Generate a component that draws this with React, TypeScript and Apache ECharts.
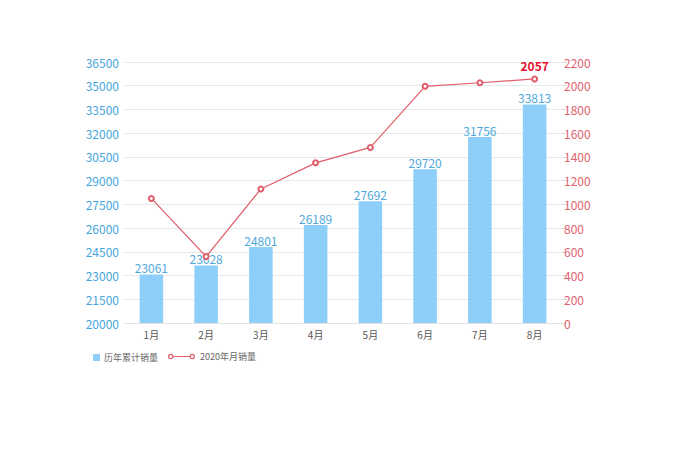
import React, { useEffect, useRef } from "react";
import * as echarts from "echarts";

const months = ["1月", "2月", "3月", "4月", "5月", "6月", "7月", "8月"];
const cumulativeSales = [23061, 23628, 24801, 26189, 27692, 29720, 31756, 33813];
const monthlySales2020 = [1050, 560, 1130, 1350, 1480, 1995, 2025, 2057];
const leftAxisMin = 20000;
const leftAxisMax = 36500;
const leftAxisStep = 1500;
const rightAxisMax = 2200;
const rightAxisStep = 200;
const barName = "历年累计销量";
const lineName = "2020年月销量";

const FONT = "'Noto Sans CJK SC', 'Noto Sans', sans-serif";

const lineLegendIcon =
  "path://M0,3 A3,3 0 1,0 6,3 A3,3 0 1,0 0,3 Z M1.3,3 A1.7,1.7 0 1,1 4.7,3 A1.7,1.7 0 1,1 1.3,3 Z " +
  "M6,2.5 L24,2.5 L24,3.5 L6,3.5 Z " +
  "M24,3 A3,3 0 1,0 30,3 A3,3 0 1,0 24,3 Z M25.3,3 A1.7,1.7 0 1,1 28.7,3 A1.7,1.7 0 1,1 25.3,3 Z";

export default function App() {
  const ref = useRef<HTMLDivElement>(null);
  useEffect(() => {
    if (!ref.current) return;
    const chart = echarts.init(ref.current, null, { renderer: "svg" });
    const lastIdx = monthlySales2020.length - 1;
    chart.setOption({
      animation: false,
      backgroundColor: "#ffffff",
      textStyle: { fontFamily: FONT },
      grid: { left: 124, right: 118, top: 62, bottom: 129, containLabel: false },
      legend: [
        {
          data: [{ name: barName, icon: "rect" }],
          left: 88,
          top: 348,
          itemWidth: 7,
          itemHeight: 7,
          itemGap: 10,
          textStyle: { fontSize: 9, color: "#666", fontFamily: FONT, padding: [0, 0, 0, -1] },
        },
        {
          data: [{ name: lineName, icon: lineLegendIcon }],
          left: 163,
          top: 347,
          itemWidth: 27,
          itemHeight: 6,
          textStyle: { fontSize: 9, color: "#666", fontFamily: FONT },
        },
      ],
      xAxis: {
        type: "category",
        data: months,
        axisLine: { show: true, lineStyle: { color: "#e3e3e3" } },
        axisTick: { show: false },
        axisLabel: { color: "#555", fontSize: 10, margin: 6, fontFamily: FONT },
      },
      yAxis: [
        {
          type: "value",
          min: 0,
          max: leftAxisMax - leftAxisMin,
          interval: leftAxisStep,
          axisLine: { show: false },
          axisTick: { show: false },
          axisLabel: {
            color: "#45a6dd",
            fontSize: 12,
            margin: 5,
            fontFamily: FONT,
            formatter: (v: number) => String(v + leftAxisMin),
          },
          splitLine: { lineStyle: { color: "#e6e8ec" } },
        },
        {
          type: "value",
          min: 0,
          max: rightAxisMax,
          interval: rightAxisStep,
          axisLine: { show: false },
          axisTick: { show: true, length: 5, lineStyle: { color: "#d8d8d8" } },
          axisLabel: {
            color: "#e0606e",
            fontSize: 12,
            margin: 2,
            fontFamily: FONT,
            formatter: (v: number) => String(v),
          },
          splitLine: { show: false },
        },
      ],
      series: [
        {
          name: barName,
          type: "bar",
          yAxisIndex: 0,
          barWidth: "43%",
          itemStyle: { color: "#8ecff9" },
          label: {
            show: true,
            position: "top",
            distance: 1,
            color: "#4fa8dc",
            fontSize: 12,
            fontFamily: FONT,
            formatter: (p: any) => String(cumulativeSales[p.dataIndex]),
          },
          data: cumulativeSales.map((v) => v - leftAxisMin),
        },
        {
          name: lineName,
          type: "line",
          yAxisIndex: 1,
          symbol: "emptyCircle",
          symbolSize: 5,
          lineStyle: { color: "#e05d69", width: 1.2 },
          itemStyle: { color: "#e05d69", borderWidth: 1.2 },
          data: monthlySales2020.map((v, i) =>
            i === lastIdx
              ? {
                  value: v,
                  label: {
                    show: true,
                    position: "top",
                    distance: 4,
                    color: "#e8112d",
                    fontWeight: "bold",
                    fontSize: 12,
                    fontFamily: FONT,
                  },
                }
              : v
          ),
        },
      ],
    });
    return () => chart.dispose();
  }, []);
  return (
    <div
      ref={ref}
      style={{ position: "absolute", left: 0, top: 0, width: 680, height: 452, background: "#fff" }}
    />
  );
}
